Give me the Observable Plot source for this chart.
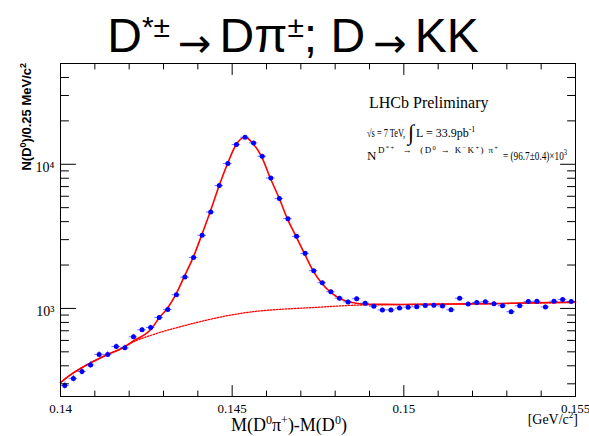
<!DOCTYPE html>
<html><head><meta charset="utf-8">
<script src="https://cdn.jsdelivr.net/npm/d3@7"></script>
<script src="https://cdn.jsdelivr.net/npm/@observablehq/plot@0.6"></script>
<style>
body{margin:0;background:#fff;}
#chart svg{display:block;}
</style></head><body><div id="chart"></div>
<script>
// ---- data ----
const binCenters = [0.140125,0.140375,0.140625,0.140875,0.141125,0.141375,0.141625,0.141875,0.142125,0.142375,
  0.142625,0.142875,0.143125,0.143375,0.143625,0.143875,0.144125,0.144375,0.144625,0.144875,
  0.145125,0.145375,0.145625,0.145875,0.146125,0.146375,0.146625,0.146875,0.147125,0.147375,
  0.147625,0.147875,0.148125,0.148375,0.148625,0.148875,0.149125,0.149375,0.149625,0.149875,
  0.150125,0.150375,0.150625,0.150875,0.151125,0.151375,0.151625,0.151875,0.152125,0.152375,
  0.152625,0.152875,0.153125,0.153375,0.153625,0.153875,0.154125,0.154375,0.154625,0.154875];
const counts = [292,327,365,406,480,480,545,533,636,711,
  738,866,984,1245,1649,2259,3213,4665,7112,10110,
  13700,15400,14060,11360,8030,5780,4197,3162,2410,1827,
  1508,1306,1179,1110,1168,1088,1037,976,976,1005,
  1021,1027,1049,1052,1041,979,1177,1073,1101,1113,
  1078,1044,949,1044,1115,1122,1024,1122,1155,1115];
const fitMass = [0.14000,0.14035,0.14084,0.14131,0.14180,0.14212,0.14267,0.14286,0.14311,0.14336,
  0.14360,0.14387,0.14411,0.14436,0.14462,0.14487,0.14512,0.14523,0.14535,0.14547,
  0.14560,0.14586,0.14610,0.14637,0.14661,0.14686,0.14711,0.14735,0.14759,0.14785,
  0.14808,0.14834,0.14860,0.14887,0.14988,0.15134,0.15279,0.15500];
const fitValue = [306,354,415,472,532,595,732,852,1000,1251,
  1654,2279,3214,4679,7090,10160,13770,14800,15400,15040,
  13990,11270,8124,5806,4183,3162,2390,1836,1516,1308,
  1192,1122,1088,1069,1066,1073,1083,1106];
const bkgMass = [0.14000,0.14035,0.14084,0.14131,0.14180,0.14212,0.14262,0.14363,0.14523,0.14756,0.14881,0.14988,0.15279,0.15500];
const bkgValue = [306,354,415,472,530,585,649,762,923,1021,1057,1063,1080,1102];
const binWidth = 0.00025;
const xMajorTicks = [0.14,0.145,0.15,0.155];
const xTickLabels = ["0.14","0.145","0.15","0.155"];
const xMinorTicks = [0.141,0.142,0.143,0.144,0.146,0.147,0.148,0.149,0.151,0.152,0.153,0.154];
const yMajorTicks = [1000,10000];
const yTickLabels = ["10³","10⁴"];
const yMinorTicks = [300,400,500,600,700,800,900,2000,3000,4000,5000,6000,7000,8000,9000,20000,30000,40000];

const points = binCenters.map((m,i)=>({m, n: counts[i]}));
const fit = fitMass.map((m,i)=>({m, v: fitValue[i]}));
const bkg = bkgMass.map((m,i)=>({m, v: bkgValue[i]}));

const tickShape = {draw(ctx, l){ ctx.moveTo(0,0); ctx.lineTo(0,-l); }};
const serif = "'Liberation Serif','Times New Roman',serif";
const sans = "'Liberation Sans',Arial,sans-serif";
const tk = (data, anchor, rotate, length) => Plot.vector(data, {
  ...(anchor==="top"||anchor==="bottom" ? {x: d=>d} : {y: d=>d}),
  frameAnchor: anchor, rotate, length, anchor: "start", shape: tickShape, stroke: "#000", strokeWidth: 1
});

const plot = Plot.plot({
  width: 589, height: 436, marginLeft: 60, marginRight: 14, marginTop: 63, marginBottom: 40,
  style: {background: "white", fontFamily: serif},
  x: {domain: [0.14, 0.155], axis: null},
  y: {type: "log", domain: [245, 50000], axis: null},
  marks: [
    Plot.line(bkg, {x: "m", y: "v", stroke: "#ff0000", strokeWidth: 1.3, strokeDasharray: "1.5,1.5", curve: "monotone-x"}),
    Plot.line(fit, {x: "m", y: "v", stroke: "#ff0000", strokeWidth: 1.6, curve: "monotone-x"}),
    Plot.ruleY(points, {y: "n", x1: d=>d.m-binWidth/2, x2: d=>d.m+binWidth/2, stroke: "#0000ff", strokeOpacity: 0.55}),
    Plot.ruleX(points, {x: "m", y1: d=>d.n-Math.sqrt(d.n), y2: d=>d.n+Math.sqrt(d.n), stroke: "#0000ff", strokeOpacity: 0.55}),
    Plot.dot(points, {x: "m", y: "n", r: 2.5, fill: "#0000ff", stroke: "none"}),
    tk(xMajorTicks, "bottom", 0, 11), tk(xMinorTicks, "bottom", 0, 5.5),
    tk(xMajorTicks, "top", 180, 11), tk(xMinorTicks, "top", 180, 5.5),
    tk(yMajorTicks, "left", 90, 15), tk(yMinorTicks, "left", 90, 8),
    tk(yMajorTicks, "right", -90, 15), tk(yMinorTicks, "right", -90, 8),
    Plot.frame({stroke: "#000"}),
    Plot.text(xMajorTicks, {x: d=>d, frameAnchor: "bottom", text: (d,i)=>xTickLabels[i], dy: 12, lineAnchor: "middle", fontSize: 13, fontFamily: serif, fill: "#000"}),
    Plot.text(yMajorTicks, {y: d=>d, frameAnchor: "left", text: (d,i)=>yTickLabels[i], dx: -6, dy: 3, textAnchor: "end", lineAnchor: "middle", fontSize: 14, fontFamily: serif, fill: "#000"})
  ]
});
document.getElementById("chart").appendChild(plot);

// ---- text annotations ----
const svg = d3.select(plot);
function addText(x, y, parts, attrs) {
  const t = svg.append("text").attr("x", x).attr("y", y).attr("fill", "#000").attr("text-anchor", "start");
  for (const k in attrs) t.attr(k, attrs[k]);
  for (const p of parts) {
    const s = t.append("tspan").text(p.t);
    if (p.fs) s.attr("font-size", p.fs);
    if (p.dy) s.attr("dy", p.dy);
    if (p.dx) s.attr("dx", p.dx);
    if (p.ff) s.attr("font-family", p.ff);
  }
  return t;
}
const dejavu = "'DejaVu Sans',sans-serif";
// title
addText(293, 52, [
  {t: "D"}, {t: "*±", fs: 30, dy: -15}, {t: "→", fs: 40, ff: dejavu, dy: 20, dx: 8},
  {t: "Dπ", dy: -5, dx: 8}, {t: "±", fs: 30, dy: -15}, {t: "; D", dy: 15}, {t: "→", fs: 40, ff: dejavu, dy: 5, dx: 8}, {t: "KK", dy: -5, dx: 8}
], {"text-anchor": "middle", "font-family": sans, "font-size": 48});
// y title
addText(0, 0, [
  {t: "N(D"}, {t: "0", fs: 9, dy: -5}, {t: ")/0.25 MeV/c", dy: 5}, {t: "2", fs: 9, dy: -5}
], {"text-anchor": "end", "font-family": sans, "font-size": 13, "font-weight": "bold", transform: "translate(31,63) rotate(-90)"});
// x title
addText(231, 431, [
  {t: "M(D"}, {t: "0", fs: 12, dy: -7}, {t: "π", dy: 7}, {t: "+", fs: 12, dy: -7},
  {t: ")-M(D", dy: 7}, {t: "0", fs: 12, dy: -7}, {t: ")", dy: 7}
], {"font-family": serif, "font-size": 18});
addText(578, 424, [{t: "[GeV/c"}, {t: "2", fs: 9, dy: -6}, {t: "]", dy: 6}],
  {"text-anchor": "end", "font-family": serif, "font-size": 14});
// annotations
addText(369, 108, [{t: "LHCb Preliminary"}], {"font-family": serif, "font-size": 16});
addText(367, 137, [{t: "√s = 7 TeV,"}], {"font-family": serif, "font-size": 11.5, textLength: 38, lengthAdjust: "spacingAndGlyphs"});
addText(408, 140, [{t: "∫"}], {"font-family": serif, "font-size": 22});
addText(416, 137, [{t: "L = 33.9pb"}, {t: "-1", fs: 8, dy: -5}], {"font-family": serif, "font-size": 12});
addText(367, 160, [{t: "N"}], {"font-family": serif, "font-size": 13});
addText(378, 153, [
  {t: "D"}, {t: "*+", fs: 6.5, dy: -3}, {t: "  →  (D", dy: 3}, {t: "0", fs: 6.5, dy: -3}, {t: " → K", dy: 3},
  {t: "−", fs: 6.5, dy: -3}, {t: "K", dy: 3}, {t: "+", fs: 6.5, dy: -3}, {t: ") π", dy: 3}, {t: "+", fs: 6.5, dy: -3}
], {"font-family": serif, "font-size": 9, textLength: 120, lengthAdjust: "spacing"});
addText(503, 160, [{t: "= (96.7±0.4)×10"}, {t: "3", fs: 8, dy: -5}], {"font-family": serif, "font-size": 11.5, textLength: 64, lengthAdjust: "spacingAndGlyphs"});
</script></body></html>
